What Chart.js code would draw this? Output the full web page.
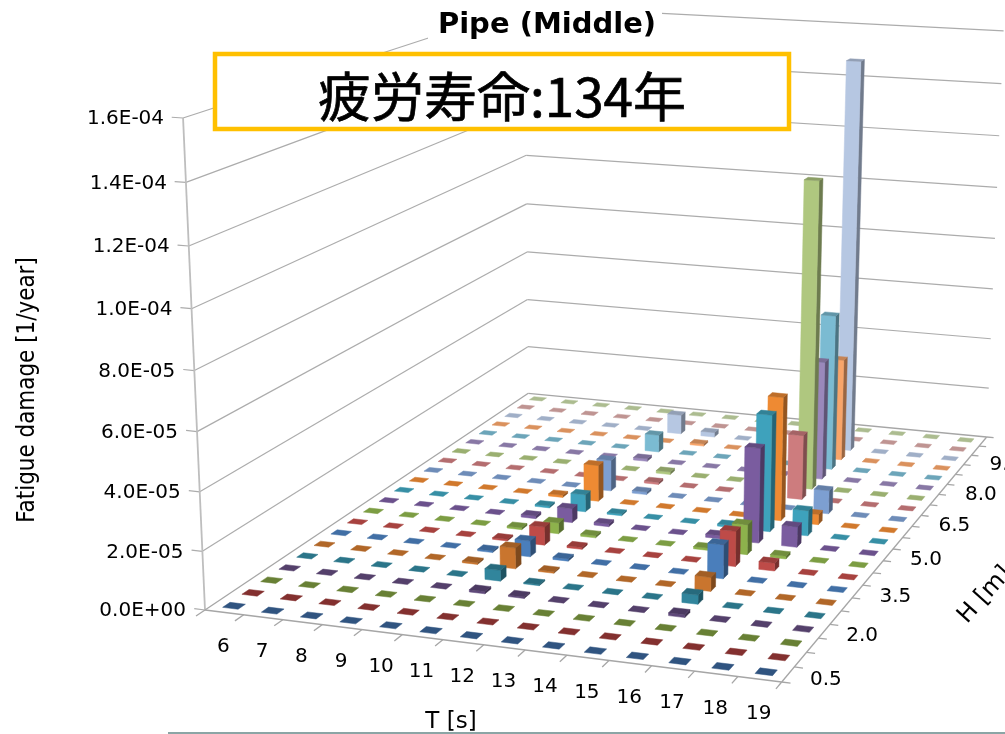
<!DOCTYPE html>
<html lang="ja">
<head>
<meta charset="utf-8">
<title>Pipe (Middle)</title>
<script src="https://cdn.jsdelivr.net/npm/chart.js@4"></script>
<style>
  html, body { margin: 0; padding: 0; background: #fff; overflow: hidden; }
  canvas { display: block; }
</style>
</head>
<body>
<canvas id="chart" width="1005" height="734"></canvas>
<script>
// Wave period categories along the front edge.
const periods = ['6','7','8','9','10','11','12','13','14','15','16','17','18','19'];
// Wave height rows, front to back.
const heights = ['0.5','1.0','1.5','2.0','2.5','3.0','3.5','4.0','4.5','5.0','5.5','6.0','6.5','7.0','7.5','8.0','8.5','9.0','9.5','10.0','10.5'];
// Fatigue damage [1/year] per height row, one value per period.
const damageH0_5  = [0,0,0,0,0,0,0,0,0,0,0,0,0,0];
const damageH1_0  = [0,0,0,0,0,0,0,0,0,0,0,0,0,0];
const damageH1_5  = [0,0,0,0,0,0,0,0,0,0,0,0,0,0];
const damageH2_0  = [0,0,0,0,0,8e-7,5e-7,0,0,0,1e-6,0,0,0];
const damageH2_5  = [0,0,0,0,0,3.8e-6,4e-7,0,0,0,3.2e-6,0,0,0];
const damageH3_0  = [0,0,0,0,6e-7,7.4e-6,5e-7,0,0,0,4.9e-6,0,0,0];
const damageH3_5  = [0,0,0,0,6e-7,5.7e-6,8e-7,0,0,0,1.2e-5,0,0,0];
const damageH4_0  = [0,0,0,0,6e-7,6.6e-6,7e-7,0,0,0,1.26e-5,2.8e-6,0,0];
const damageH4_5  = [0,0,0,0,7e-7,4e-6,8e-7,0,0,8e-7,1.08e-5,1e-6,0,0];
const damageH5_0  = [0,0,0,0,1e-6,5.2e-6,1e-6,0,0,1.2e-6,3.44e-5,7.4e-6,0,0];
const damageH5_5  = [0,0,0,0,7e-7,6.4e-6,6e-7,0,0,8e-7,4.27e-5,9.2e-6,0,0];
const damageH6_0  = [0,0,0,0,8e-7,1.36e-5,0,0,0,0,4.56e-5,3.8e-6,0,0];
const damageH6_5  = [0,0,0,0,0,1.17e-5,1e-6,0,0,0,0,8.7e-6,0,0];
const damageH7_0  = [0,0,0,0,0,0,8e-7,0,0,0,2.43e-5,0,0,0];
const damageH7_5  = [0,0,0,0,0,0,1e-6,0,0,0,1.157e-4,0,0,0];
const damageH8_0  = [0,0,0,0,0,1e-6,0,0,0,0,4.52e-5,0,0,0];
const damageH8_5  = [0,0,0,0,0,6.7e-6,0,0,0,0,5.97e-5,0,0,0];
const damageH9_0  = [0,0,0,0,0,0,8e-7,0,0,0,3.94e-5,0,0,0];
const damageH9_5  = [0,0,0,0,0,7.6e-6,1.8e-6,0,0,0,1.51e-4,0,0,0];
const damageH10_0 = [0,0,0,0,0,0,0,0,0,0,0,0,0,0];
const damageH10_5 = [0,0,0,0,0,0,0,0,0,0,0,0,0,0];
const damageRows = [damageH0_5,damageH1_0,damageH1_5,damageH2_0,damageH2_5,damageH3_0,damageH3_5,
  damageH4_0,damageH4_5,damageH5_0,damageH5_5,damageH6_0,damageH6_5,damageH7_0,damageH7_5,
  damageH8_0,damageH8_5,damageH9_0,damageH9_5,damageH10_0,damageH10_5];
// Face colour of each height row.
const rowColors = ['#376092','#953735','#76923C','#5F497A','#31859C','#C9752E',
  '#4A7EBB','#BE4B48','#8DB24C','#7A5C9F','#3EA2BC','#EE8A33',
  '#7D9FD1','#CD7C7E','#AFC77F','#9A88BB','#7BBBD2','#F8A56A',
  '#B6C7E2','#D9A8A6','#C4D6A4'];
const damageTicksMax = 1.6e-4;
const damageTickStep = 2e-5;

// Camera: the floor quadrilateral plus the point where uprights converge.
const floorFL = [205, 610], floorFR = [781.7, 682], floorBR = [986.7, 437], floorBL = [528.3, 393.3];
const uprightVanish = [606, 9600];
const axisTopY = 118;
const BAR_HALF_X = 0.2, BAR_HALF_Y = 0.19;

const det = (p, q) => p[0] * q[1] - p[1] * q[0];
const camera = (() => {
  const d1 = [floorFR[0] - floorBR[0], floorFR[1] - floorBR[1]];
  const d2 = [floorBL[0] - floorBR[0], floorBL[1] - floorBR[1]];
  const s = [floorFL[0] - floorFR[0] + floorBR[0] - floorBL[0], floorFL[1] - floorFR[1] + floorBR[1] - floorBL[1]];
  const g = det(s, d2) / det(d1, d2), h = det(d1, s) / det(d1, d2);
  const a = [floorFR[0] - floorFL[0] + g * floorFR[0], floorFR[1] - floorFL[1] + g * floorFR[1]];
  const b = [floorBL[0] - floorFL[0] + h * floorBL[0], floorBL[1] - floorFL[1] + h * floorBL[1]];
  const k = (axisTopY - floorFL[1]) / (uprightVanish[1] - axisTopY);
  return { a, b, g, h, k };
})();
// Maps normalised floor position and height to canvas coordinates.
function project(fx, fy, fz) {
  const { a, b, g, h, k } = camera;
  const w = g * fx + h * fy + 1 + k * fz;
  return [
    (a[0] * fx + b[0] * fy + floorFL[0] + k * fz * uprightVanish[0]) / w,
    (a[1] * fx + b[1] * fy + floorFL[1] + k * fz * uprightVanish[1]) / w
  ];
}
// Same mapping, fed from the chart's period, height-row and damage scales.
function place(chart, col, row, value) {
  const sx = chart.scales.x, sr = chart.scales.rows, sy = chart.scales.y;
  return project(
    (sx.getPixelForValue(col) - sx.left) / sx.width,
    (sr.getPixelForValue(row) - sr.top) / sr.height,
    (sy.bottom - sy.getPixelForValue(value)) / sy.height
  );
}
function shade(hex, f) {
  const n = parseInt(hex.slice(1), 16);
  return `rgb(${Math.round((n >> 16) * f)},${Math.round(((n >> 8) & 255) * f)},${Math.round((n & 255) * f)})`;
}
function poly(ctx, pts, fill) {
  ctx.beginPath();
  pts.forEach((p, i) => i ? ctx.lineTo(p[0], p[1]) : ctx.moveTo(p[0], p[1]));
  ctx.closePath();
  ctx.fillStyle = fill;
  ctx.strokeStyle = fill;
  ctx.lineWidth = 0.5;
  ctx.fill();
  ctx.stroke();
}
function seg(ctx, p, q) {
  ctx.beginPath();
  ctx.moveTo(p[0], p[1]);
  ctx.lineTo(q[0], q[1]);
  ctx.stroke();
}

// Draws each dataset as a row of boxes standing on the floor.
class Box3DController extends Chart.BarController {
  draw() {
    const chart = this.chart, ctx = chart.ctx;
    const row = this.index, values = this.getDataset().data, color = this.getDataset().backgroundColor;
    const ax = BAR_HALF_X, ay = BAR_HALF_Y;
    ctx.save();
    values.forEach((v, col) => {
      const b = (c, r) => place(chart, c, r, 0), t = (c, r) => place(chart, c, r, v);
      if (v > 0) {
        poly(ctx, [b(col + ax, row - ay), b(col + ax, row + ay), t(col + ax, row + ay), t(col + ax, row - ay)], shade(color, 0.62));
        poly(ctx, [b(col - ax, row - ay), b(col + ax, row - ay), t(col + ax, row - ay), t(col - ax, row - ay)], color);
      }
      const topFill = v > 0 ? shade(color, 0.8) : shade(color, 0.88);
      poly(ctx, [t(col - ax, row - ay), t(col + ax, row - ay), t(col + ax, row + ay), t(col - ax, row + ay)], topFill);
    });
    ctx.restore();
  }
}
Box3DController.id = 'box3d';
Box3DController.defaults = Chart.BarController.defaults;
Chart.register(Box3DController);

const TICK_FONT = "20px 'DejaVu Sans'";
const CAT_FONT = "20px 'DejaVu Sans'";

// Walls, floor edges, axis ticks and axis labels, all in the projected space.
const perspectiveAxes = {
  id: 'perspectiveAxes',
  beforeDatasetsDraw(chart) {
    const ctx = chart.ctx, sy = chart.scales.y;
    const lastCol = periods.length - 0.5, lastRow = heights.length - 0.5;
    ctx.save();
    ctx.lineCap = 'butt';
    ctx.strokeStyle = '#ACACAC';
    ctx.lineWidth = 1.2;
    ctx.font = TICK_FONT;
    ctx.fillStyle = '#000';
    sy.ticks.forEach(tick => {
      const v = tick.value;
      const front = place(chart, -0.5, -0.5, v), back = place(chart, -0.5, lastRow, v), right = place(chart, lastCol, lastRow, v);
      if (v > 0) { seg(ctx, front, back); seg(ctx, back, right); }
      seg(ctx, front, place(chart, -0.78, -0.5, v));
      ctx.textAlign = 'right';
      ctx.textBaseline = 'middle';
      ctx.fillText(v.toExponential(1).replace(/e([+-])(\d)$/, 'E$10$2'), front[0] - 19, front[1] + 1);
    });
    ctx.strokeStyle = '#BEBEBE';
    ctx.lineWidth = 1.8;
    seg(ctx, place(chart, -0.5, -0.5, 0), place(chart, -0.5, -0.5, damageTicksMax));
    ctx.lineWidth = 1.3;
    ctx.strokeStyle = '#A6A6A6';
    seg(ctx, place(chart, -0.5, -0.5, 0), place(chart, lastCol, -0.5, 0));
    seg(ctx, place(chart, lastCol, -0.5, 0), place(chart, lastCol, lastRow, 0));
    seg(ctx, place(chart, lastCol, lastRow, 0), place(chart, -0.5, lastRow, 0));
    seg(ctx, place(chart, -0.5, lastRow, 0), place(chart, -0.5, -0.5, 0));

    ctx.font = CAT_FONT;
    ctx.textAlign = 'center';
    for (let c = 0; c <= periods.length; c++) {
      const p = place(chart, c - 0.5, -0.5, 0);
      seg(ctx, p, place(chart, c - 0.5, -0.95, 0));
    }
    periods.forEach((label, c) => {
      const p = place(chart, c, -0.5, 0);
      ctx.fillText(label, p[0] - 1, p[1] + 34.5);
    });
    for (let r = 0; r <= heights.length; r++) {
      const p = place(chart, lastCol, r - 0.5, 0);
      seg(ctx, p, place(chart, lastCol + 0.2, r - 0.5, 0));
    }
    ctx.textAlign = 'left';
    heights.forEach((label, r) => {
      if (r % 3) return;
      const p = place(chart, lastCol, r, 0);
      ctx.fillText(label, p[0] + 22, p[1] + 5);
    });
    ctx.restore();
  },
  afterDraw(chart) {
    const ctx = chart.ctx;
    ctx.save();
    ctx.fillStyle = '#000';
    ctx.textAlign = 'center';
    ctx.textBaseline = 'middle';

    // Axis titles
    ctx.font = "21.5px 'DejaVu Sans'";
    ctx.save();
    ctx.translate(28, 390);
    ctx.rotate(-Math.PI / 2);
    ctx.scale(1, 1.12);
    ctx.fillText('Fatigue damage [1/year]', 0, 0);
    ctx.restore();
    ctx.font = "23px 'DejaVu Sans'";
    ctx.fillText('T [s]', 451, 722);
    ctx.save();
    ctx.translate(985, 595);
    ctx.rotate(-48 * Math.PI / 180);
    ctx.font = "24px 'DejaVu Sans'";
    ctx.fillText('H [m]', 0, 0);
    ctx.restore();

    // Bottom edge strip
    ctx.fillStyle = '#8BA5A5';
    ctx.fillRect(168, 732, 837, 2);

    // Chart title on its white plate
    ctx.fillStyle = '#fff';
    ctx.fillRect(428, 0, 234, 52);
    ctx.fillStyle = '#000';
    ctx.font = "bold 29px 'DejaVu Sans'";
    ctx.fillText('Pipe (Middle)', 547, 25);

    // Life callout
    ctx.fillStyle = '#fff';
    ctx.fillRect(215, 53, 575, 77);
    ctx.strokeStyle = '#FFC000';
    ctx.lineWidth = 4.5;
    ctx.strokeRect(215, 54, 574, 75);
    ctx.fillStyle = '#000';
    ctx.font = "53px 'Noto Sans CJK JP'";
    ctx.strokeStyle = '#000';
    ctx.lineWidth = 0.7;
    ctx.fillText('疲労寿命:134年', 502, 97);
    ctx.strokeText('疲労寿命:134年', 502, 97);
    ctx.restore();
  }
};

new Chart(document.getElementById('chart'), {
  type: 'box3d',
  data: {
    labels: periods,
    datasets: heights.map((h, r) => ({
      label: h,
      data: damageRows[r],
      backgroundColor: rowColors[r],
      clip: false
    }))
  },
  options: {
    responsive: false,
    animation: false,
    layout: { padding: 0 },
    plugins: { legend: { display: false }, tooltip: { enabled: false } },
    scales: {
      x: { type: 'category', offset: true, display: false },
      y: { type: 'linear', min: 0, max: damageTicksMax, ticks: { stepSize: damageTickStep }, display: false },
      rows: { type: 'category', axis: 'y', labels: heights, offset: true, display: false }
    }
  },
  plugins: [perspectiveAxes]
});
</script>
</body>
</html>
